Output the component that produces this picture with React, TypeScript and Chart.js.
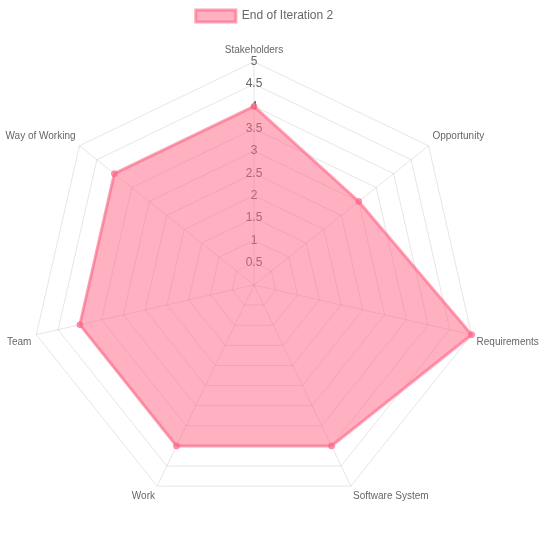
import React, { useEffect, useRef } from "react";
import { Chart, registerables } from "chart.js";

Chart.register(...registerables);

const labels = ["Stakeholders", "Opportunity", "Requirements", "Software System", "Work", "Team", "Way of Working"];
const values = [4, 3, 5, 4, 4, 4, 4];
const seriesName = "End of Iteration 2";
const FONT = "'Liberation Sans', Arial, Helvetica, sans-serif";

export default function App() {
  const ref = useRef<HTMLCanvasElement>(null);
  useEffect(() => {
    if (!ref.current) return;
    const chart = new Chart(ref.current, {
      type: "radar",
      data: {
        labels,
        datasets: [
          {
            label: seriesName,
            data: values,
            backgroundColor: "rgba(255,99,132,0.5)",
            borderColor: "rgba(255,99,132,0.6)",
            borderWidth: 3,
            pointRadius: 3,
            pointBackgroundColor: "rgba(255,99,132,0.6)",
            pointBorderColor: "rgba(255,99,132,0.6)",
            pointBorderWidth: 1,
            fill: true,
          },
        ],
      },
      options: {
        animation: false,
        responsive: true,
        maintainAspectRatio: false,
        layout: { padding: 0 },
        plugins: {
          legend: {
            maxHeight: 31,
            labels: {
              color: "#666",
              font: { family: FONT, size: 12 },
              boxWidth: 40,
              boxHeight: 12,
              padding: 10,
            },
          },
          tooltip: { enabled: false },
        },
        scales: {
          r: {
            min: 0,
            max: 5,
            ticks: {
              stepSize: 0.5,
              showLabelBackdrop: false,
              color: "#666",
              font: { family: FONT, size: 12 },
              callback: (v: any) => String(v),
            },
            pointLabels: {
              color: "#666",
              padding: -3,
              font: { family: FONT, size: 10 },
            },
            grid: { color: "rgba(0,0,0,0.1)" },
            angleLines: { color: "rgba(0,0,0,0.1)" },
          },
        },
      },
    });
    return () => chart.destroy();
  }, []);
  return (
    <div style={{ position: "fixed", left: -20, top: 0, width: 569, height: 531 }}>
      <canvas ref={ref} />
    </div>
  );
}
